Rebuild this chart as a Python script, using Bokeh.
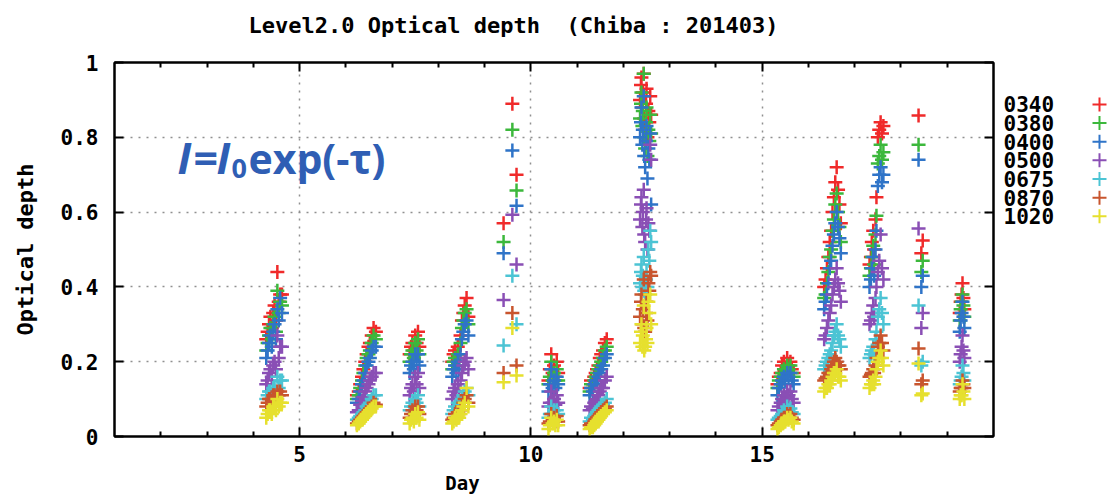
from bokeh.plotting import figure
from bokeh.models import (Range1d, FixedTicker, LinearAxis, CustomJSTickFormatter,
                          Label, ColumnDataSource)
from bokeh.layouts import row, column
from bokeh.embed import file_html
from bokeh.resources import INLINE
from bokeh.core.properties import value

# ---------------- data ----------------
title_text = "Level2.0 Optical depth \u00a0(Chiba : 201403)"
x_label = "Day"
y_label = "Optical depth"
series_names = ["0340", "0380", "0400", "0500", "0675", "0870", "1020"]
series_colors = ["#f02a2a", "#3cb83c", "#2f74c8", "#8a4fb5", "#4cc4d4", "#c8552e", "#e6e02e"]
x_ticks = [5, 10, 15]
x_minor = [2, 3, 4, 6, 7, 8, 9, 11, 12, 13, 14, 16, 17, 18, 19]
y_ticks = [0, 0.2, 0.4, 0.6, 0.8, 1.0]

day = [
    4.28, 4.31, 4.34, 4.37, 4.40, 4.43, 4.46, 4.49, 4.52, 4.55, 4.58, 4.62,
    6.24, 6.28, 6.31, 6.35, 6.38, 6.42, 6.45, 6.49, 6.52, 6.56, 6.60, 6.65,
    7.38, 7.41, 7.44, 7.47, 7.50, 7.53, 7.56, 7.59,
    8.30, 8.33, 8.36, 8.39, 8.42, 8.45, 8.48, 8.51, 8.54, 8.57, 8.61, 8.65,
    9.41, 9.60, 9.69,
    10.38, 10.41, 10.44, 10.47, 10.50, 10.53, 10.56, 10.59,
    11.27, 11.30, 11.34, 11.37, 11.40, 11.43, 11.46, 11.49, 11.52, 11.56, 11.60, 11.64,
    12.36, 12.38, 12.39, 12.41, 12.42, 12.44, 12.45, 12.47, 12.49, 12.50, 12.52, 12.54, 12.56, 12.58, 12.60,
    15.33, 15.36, 15.40, 15.43, 15.47, 15.50, 15.54, 15.57, 15.61, 15.64, 15.68,
    16.34, 16.37, 16.40, 16.43, 16.46, 16.49, 16.52, 16.55, 16.58, 16.61, 16.64, 16.67, 16.70,
    17.32, 17.35, 17.37, 17.40, 17.42, 17.45, 17.47, 17.50, 17.53, 17.56, 17.59, 17.62,
    18.38, 18.44, 18.47,
    19.27, 19.29, 19.31, 19.33, 19.35, 19.37,
]

aod_0340 = [
    0.26, 0.28, 0.30, 0.32, 0.29, 0.33, 0.35, 0.31, 0.44, 0.36, 0.38, 0.38,
    0.11, 0.12, 0.14, 0.16, 0.18, 0.20, 0.22, 0.24, 0.25, 0.27, 0.29, 0.28,
    0.22, 0.24, 0.25, 0.23, 0.27, 0.25, 0.28, 0.24,
    0.20, 0.22, 0.23, 0.21, 0.24, 0.22, 0.27, 0.31, 0.33, 0.35, 0.37, 0.32,
    0.57, 0.89, 0.70,
    0.15, 0.18, 0.22, 0.17, 0.19, 0.16, 0.20, 0.17,
    0.13, 0.15, 0.14, 0.16, 0.17, 0.18, 0.19, 0.21, 0.22, 0.23, 0.25, 0.26,
    0.90, 0.94, 0.96, 0.88, 0.92, 0.97, 0.85, 0.82, 0.89, 0.93, 0.80, 0.87, 0.84, 0.91, 0.86,
    0.14, 0.16, 0.17, 0.19, 0.20, 0.18, 0.21, 0.19, 0.20, 0.18, 0.17,
    0.40, 0.42, 0.45, 0.48, 0.52, 0.55, 0.60, 0.64, 0.68, 0.72, 0.66, 0.62, 0.57,
    0.46, 0.48, 0.52, 0.55, 0.50, 0.58, 0.64, 0.80, 0.82, 0.84, 0.81, 0.83,
    0.858, 0.49, 0.524,
    0.33, 0.36, 0.38, 0.41, 0.37, 0.34,
]
aod_0380 = [
    0.23, 0.25, 0.27, 0.29, 0.26, 0.30, 0.32, 0.28, 0.39, 0.33, 0.36, 0.35,
    0.10, 0.11, 0.13, 0.15, 0.17, 0.19, 0.21, 0.22, 0.23, 0.25, 0.27, 0.26,
    0.20, 0.22, 0.23, 0.21, 0.25, 0.23, 0.26, 0.22,
    0.18, 0.20, 0.21, 0.19, 0.22, 0.20, 0.25, 0.29, 0.31, 0.33, 0.34, 0.30,
    0.52, 0.82, 0.658,
    0.14, 0.16, 0.20, 0.15, 0.17, 0.15, 0.18, 0.15,
    0.12, 0.14, 0.13, 0.15, 0.16, 0.17, 0.18, 0.19, 0.20, 0.21, 0.23, 0.24,
    0.85, 0.89, 0.92, 0.83, 0.87, 0.97, 0.80, 0.77, 0.84, 0.88, 0.75, 0.82, 0.79, 0.86, 0.81,
    0.13, 0.15, 0.16, 0.17, 0.18, 0.17, 0.19, 0.18, 0.19, 0.17, 0.16,
    0.37, 0.38, 0.41, 0.44, 0.48, 0.50, 0.55, 0.58, 0.62, 0.65, 0.60, 0.56, 0.52,
    0.43, 0.45, 0.48, 0.51, 0.46, 0.54, 0.59, 0.73, 0.75, 0.78, 0.74, 0.76,
    0.78, 0.44, 0.47,
    0.31, 0.34, 0.36, 0.38, 0.35, 0.32,
]
aod_0400 = [
    0.21, 0.23, 0.25, 0.27, 0.24, 0.28, 0.30, 0.26, 0.34, 0.31, 0.37, 0.33,
    0.09, 0.10, 0.12, 0.14, 0.15, 0.17, 0.19, 0.20, 0.21, 0.23, 0.24, 0.24,
    0.17, 0.19, 0.20, 0.18, 0.22, 0.20, 0.22, 0.19,
    0.16, 0.18, 0.19, 0.17, 0.20, 0.18, 0.22, 0.26, 0.28, 0.30, 0.31, 0.27,
    0.49, 0.765, 0.617,
    0.12, 0.14, 0.18, 0.13, 0.15, 0.13, 0.16, 0.14,
    0.11, 0.13, 0.12, 0.14, 0.15, 0.15, 0.16, 0.17, 0.18, 0.19, 0.21, 0.22,
    0.80, 0.84, 0.88, 0.78, 0.82, 0.91, 0.75, 0.72, 0.79, 0.83, 0.69, 0.77, 0.74, 0.81, 0.62,
    0.11, 0.13, 0.14, 0.15, 0.16, 0.15, 0.17, 0.16, 0.17, 0.15, 0.14,
    0.34, 0.36, 0.38, 0.41, 0.45, 0.47, 0.51, 0.54, 0.57, 0.60, 0.56, 0.53, 0.49,
    0.40, 0.42, 0.45, 0.48, 0.43, 0.50, 0.55, 0.67, 0.70, 0.72, 0.68, 0.70,
    0.74, 0.40, 0.43,
    0.28, 0.31, 0.33, 0.36, 0.32, 0.29,
]
aod_0500 = [
    0.14, 0.15, 0.17, 0.18, 0.16, 0.19, 0.20, 0.18, 0.27, 0.21, 0.24, 0.24,
    0.065, 0.07, 0.085, 0.095, 0.105, 0.12, 0.13, 0.14, 0.15, 0.16, 0.17, 0.17,
    0.11, 0.13, 0.14, 0.12, 0.16, 0.14, 0.17, 0.13,
    0.10, 0.12, 0.13, 0.11, 0.14, 0.12, 0.15, 0.17, 0.19, 0.20, 0.21, 0.18,
    0.365, 0.593, 0.46,
    0.08, 0.09, 0.12, 0.09, 0.10, 0.085, 0.11, 0.09,
    0.07, 0.08, 0.075, 0.09, 0.095, 0.10, 0.11, 0.12, 0.13, 0.13, 0.15, 0.16,
    0.58, 0.62, 0.64, 0.56, 0.60, 0.66, 0.54, 0.52, 0.58, 0.61, 0.50, 0.57, 0.55, 0.78, 0.74,
    0.07, 0.08, 0.09, 0.10, 0.11, 0.10, 0.12, 0.11, 0.12, 0.10, 0.09,
    0.26, 0.27, 0.29, 0.31, 0.33, 0.35, 0.38, 0.40, 0.42, 0.45, 0.41, 0.39, 0.36,
    0.30, 0.31, 0.33, 0.35, 0.32, 0.37, 0.40, 0.44, 0.47, 0.54, 0.45, 0.42,
    0.556, 0.29, 0.33,
    0.20, 0.22, 0.24, 0.27, 0.23, 0.21,
]
aod_0675 = [
    0.10, 0.11, 0.12, 0.12, 0.11, 0.13, 0.13, 0.12, 0.16, 0.13, 0.15, 0.15,
    0.045, 0.05, 0.055, 0.06, 0.065, 0.07, 0.08, 0.085, 0.09, 0.10, 0.11, 0.11,
    0.07, 0.08, 0.09, 0.08, 0.10, 0.09, 0.11, 0.08,
    0.06, 0.07, 0.08, 0.07, 0.09, 0.08, 0.09, 0.10, 0.11, 0.12, 0.13, 0.11,
    0.243, 0.43, 0.30,
    0.05, 0.06, 0.08, 0.06, 0.07, 0.055, 0.07, 0.06,
    0.04, 0.05, 0.045, 0.055, 0.06, 0.065, 0.07, 0.075, 0.08, 0.085, 0.09, 0.10,
    0.41, 0.44, 0.46, 0.40, 0.43, 0.48, 0.39, 0.38, 0.42, 0.44, 0.40, 0.50, 0.47, 0.55, 0.52,
    0.045, 0.05, 0.055, 0.06, 0.07, 0.065, 0.08, 0.07, 0.075, 0.065, 0.06,
    0.18, 0.19, 0.20, 0.21, 0.22, 0.23, 0.25, 0.27, 0.28, 0.30, 0.27, 0.26, 0.24,
    0.21, 0.22, 0.23, 0.24, 0.22, 0.26, 0.28, 0.32, 0.34, 0.37, 0.33, 0.30,
    0.35, 0.19, 0.20,
    0.14, 0.15, 0.16, 0.19, 0.17, 0.15,
]
aod_0870 = [
    0.08, 0.09, 0.10, 0.10, 0.09, 0.11, 0.11, 0.10, 0.12, 0.11, 0.12, 0.11,
    0.035, 0.04, 0.045, 0.05, 0.055, 0.06, 0.065, 0.07, 0.075, 0.08, 0.09, 0.085,
    0.05, 0.06, 0.07, 0.06, 0.08, 0.07, 0.08, 0.06,
    0.045, 0.05, 0.06, 0.05, 0.065, 0.06, 0.07, 0.08, 0.09, 0.10, 0.11, 0.09,
    0.17, 0.33, 0.19,
    0.035, 0.04, 0.06, 0.045, 0.05, 0.04, 0.055, 0.04,
    0.03, 0.035, 0.035, 0.04, 0.045, 0.05, 0.055, 0.06, 0.065, 0.07, 0.075, 0.08,
    0.32, 0.36, 0.38, 0.30, 0.34, 0.42, 0.29, 0.28, 0.33, 0.36, 0.31, 0.41, 0.39, 0.44, 0.43,
    0.03, 0.035, 0.04, 0.045, 0.05, 0.05, 0.06, 0.055, 0.06, 0.05, 0.045,
    0.15, 0.155, 0.16, 0.17, 0.17, 0.18, 0.19, 0.20, 0.21, 0.20, 0.19, 0.19, 0.18,
    0.16, 0.165, 0.17, 0.18, 0.17, 0.19, 0.21, 0.24, 0.25, 0.27, 0.25, 0.23,
    0.235, 0.14, 0.15,
    0.12, 0.13, 0.13, 0.15, 0.14, 0.13,
]
aod_1020 = [
    0.05, 0.06, 0.07, 0.07, 0.06, 0.08, 0.08, 0.07, 0.10, 0.08, 0.09, 0.09,
    0.03, 0.035, 0.04, 0.045, 0.05, 0.055, 0.06, 0.065, 0.07, 0.075, 0.08, 0.08,
    0.035, 0.045, 0.05, 0.04, 0.06, 0.05, 0.065, 0.045,
    0.035, 0.04, 0.05, 0.045, 0.055, 0.05, 0.06, 0.07, 0.08, 0.09, 0.13, 0.08,
    0.145, 0.29, 0.163,
    0.02, 0.03, 0.05, 0.035, 0.04, 0.03, 0.045, 0.03,
    0.02, 0.025, 0.025, 0.03, 0.035, 0.04, 0.045, 0.05, 0.055, 0.06, 0.065, 0.07,
    0.25, 0.28, 0.30, 0.24, 0.27, 0.35, 0.23, 0.24, 0.26, 0.29, 0.25, 0.36, 0.33, 0.38, 0.30,
    0.02, 0.025, 0.03, 0.035, 0.04, 0.04, 0.05, 0.045, 0.05, 0.04, 0.035,
    0.12, 0.13, 0.13, 0.14, 0.14, 0.15, 0.16, 0.17, 0.17, 0.18, 0.16, 0.16, 0.15,
    0.13, 0.14, 0.14, 0.15, 0.14, 0.16, 0.18, 0.20, 0.21, 0.23, 0.21, 0.19,
    0.195, 0.11, 0.115,
    0.10, 0.11, 0.11, 0.14, 0.12, 0.10,
]

series_values = [aod_0340, aod_0380, aod_0400, aod_0500, aod_0675, aod_0870, aod_1020]
for v in series_values:
    assert len(v) == len(day)

# ---------------- layout (page pixels; the page has no margin) ----------------
MONO = "DejaVu Sans Mono"
X0, X1 = 1, 20
FR_L, FR_R, FR_T, FR_B = 114, 993, 62, 436   # plot frame edges on the page
PAGE_W, PAGE_H = 1108, 497
TITLE_H = 42
MAIN_W = 1000
MAIN_BOTTOM = 470
MAIN_H = MAIN_BOTTOM - TITLE_H
LEG_W = PAGE_W - MAIN_W
DAY_H = PAGE_H - MAIN_BOTTOM


def px_x(px):
    return X0 + (px - FR_L) * (X1 - X0) / (FR_R - FR_L)


def px_y(py):
    return (FR_B - py) / (FR_B - FR_T)


def strip(width, height, top):
    f = figure(width=width, height=height, x_range=Range1d(0, width),
               y_range=Range1d(top + height, top), output_backend="svg",
               toolbar_location=None, title=None, min_border=0,
               x_axis_location=None, y_axis_location=None)
    f.grid.visible = False
    f.outline_line_color = None
    f.background_fill_color = "white"
    f.border_fill_color = "white"
    return f


# ---------------- main plot ----------------
p = figure(width=MAIN_W, height=MAIN_H, x_range=Range1d(X0, X1), y_range=Range1d(0, 1),
           output_backend="svg", toolbar_location=None, title=None,
           min_border_left=FR_L, min_border_right=MAIN_W - FR_R,
           min_border_top=FR_T - TITLE_H, min_border_bottom=MAIN_BOTTOM - FR_B)
p.background_fill_color = "white"
p.border_fill_color = "white"
p.outline_line_color = "black"
p.outline_line_width = 2

xt = FixedTicker(ticks=x_ticks, minor_ticks=x_minor)
yt = FixedTicker(ticks=y_ticks, minor_ticks=[])
blank = CustomJSTickFormatter(code="return '';")

for ax in p.xaxis:
    ax.ticker = xt
    ax.major_tick_in = 9
    ax.major_tick_out = 0
    ax.minor_tick_in = 5
    ax.minor_tick_out = 0
    ax.major_tick_line_width = 2
    ax.minor_tick_line_width = 2
    ax.axis_line_width = 2
    ax.major_label_text_font = MONO
    ax.major_label_text_font_style = "bold"
    ax.major_label_text_font_size = "21px"
    ax.major_label_text_color = "black"
    ax.major_label_standoff = 9

for ax in p.yaxis:
    ax.ticker = yt
    ax.formatter = CustomJSTickFormatter(code="return (Math.round(tick*10)/10).toString();")
    ax.major_tick_in = 9
    ax.major_tick_out = 0
    ax.minor_tick_line_color = None
    ax.major_tick_line_width = 2
    ax.axis_line_width = 2
    ax.major_label_text_font = MONO
    ax.major_label_text_font_style = "bold"
    ax.major_label_text_font_size = "21px"
    ax.major_label_text_color = "black"
    ax.major_label_standoff = 16
    ax.axis_label = y_label
    ax.axis_label_text_font = MONO
    ax.axis_label_text_font_style = "bold"
    ax.axis_label_text_font_size = "22px"
    ax.axis_label_text_color = "black"
    ax.axis_label_standoff = 20

top = LinearAxis(ticker=xt, formatter=blank, major_tick_in=9, major_tick_out=0,
                 minor_tick_in=5, minor_tick_out=0, major_tick_line_width=2,
                 minor_tick_line_width=2, axis_line_width=2, major_label_standoff=0)
p.add_layout(top, "above")
right = LinearAxis(ticker=yt, formatter=blank, major_tick_in=9, major_tick_out=0,
                   minor_tick_line_color=None, major_tick_line_width=2,
                   axis_line_width=2, major_label_standoff=0)
p.add_layout(right, "right")

p.xgrid.ticker = xt
p.ygrid.ticker = yt
p.grid.grid_line_color = "#909090"
p.grid.grid_line_dash = "2 6"
p.grid.grid_line_width = 1.5

src = ColumnDataSource(dict(day=day, **{f"aod_{n}": v for n, v in zip(series_names, series_values)}))
for n, c in zip(series_names, series_colors):
    p.scatter("day", f"aod_{n}", source=src, marker="cross", size=14,
              line_color=c, line_width=2.5)

# formula annotation (inside the frame)
BLUE = "#2f5eb4"
SANS = "Open Sans"
base = px_y(157)
for txt, px, style, size, yb in [
    ("I", 177, "bold italic", "43px", base),
    ("=", 193, "bold", "43px", base),
    ("I", 216, "bold italic", "43px", base),
    ("0", 231, "bold", "27px", px_y(168)),
    ("exp(-τ)", 248, "bold", "41px", base),
]:
    p.add_layout(Label(x=px_x(px), y=yb, text=txt, text_align="left",
                       text_baseline="alphabetic", text_font=SANS,
                       text_font_style=style, text_font_size=size, text_color=BLUE))

# ---------------- title strip ----------------
tf = strip(PAGE_W, TITLE_H, 0)
tf.text(x=[513], y=[25], text=[title_text], text_font=value(MONO), text_font_style="bold",
        text_font_size="22px", text_align="center", text_baseline="middle", text_color="black")

# ---------------- legend strip (labels left, crosses right) ----------------
leg = figure(width=LEG_W, height=MAIN_H, x_range=Range1d(MAIN_W, PAGE_W),
             y_range=Range1d(MAIN_BOTTOM, TITLE_H), output_backend="svg",
             toolbar_location=None, title=None, min_border=0,
             x_axis_location=None, y_axis_location=None)
leg.grid.visible = False
leg.outline_line_color = None
leg.background_fill_color = "white"
leg.border_fill_color = "white"

nser = len(series_names)
row_y = [90 + i * (218 - 90) / (nser - 1) for i in range(nser)]
leg_src = ColumnDataSource(dict(x_text=[1003] * nser, x_mark=[1099] * nser,
                                y=row_y, label=series_names, color=series_colors))
leg.text(x="x_text", y="y", text="label", source=leg_src, text_font=value(MONO),
         text_font_style="bold", text_font_size="21px", text_baseline="middle",
         text_align="left", text_color="black")
leg.scatter(x="x_mark", y="y", source=leg_src, marker="cross", size=14,
            line_color="color", line_width=2)

# ---------------- x-axis label strip ----------------
df = strip(PAGE_W, DAY_H, MAIN_BOTTOM)
df.text(x=[462], y=[482], text=[x_label], text_font=value(MONO), text_font_style="bold",
        text_font_size="19px", text_align="center", text_baseline="middle",
        text_color="black")

layout = column(tf, row(p, leg), df, spacing=0)
open("out.html", "w").write(file_html(layout, INLINE))
